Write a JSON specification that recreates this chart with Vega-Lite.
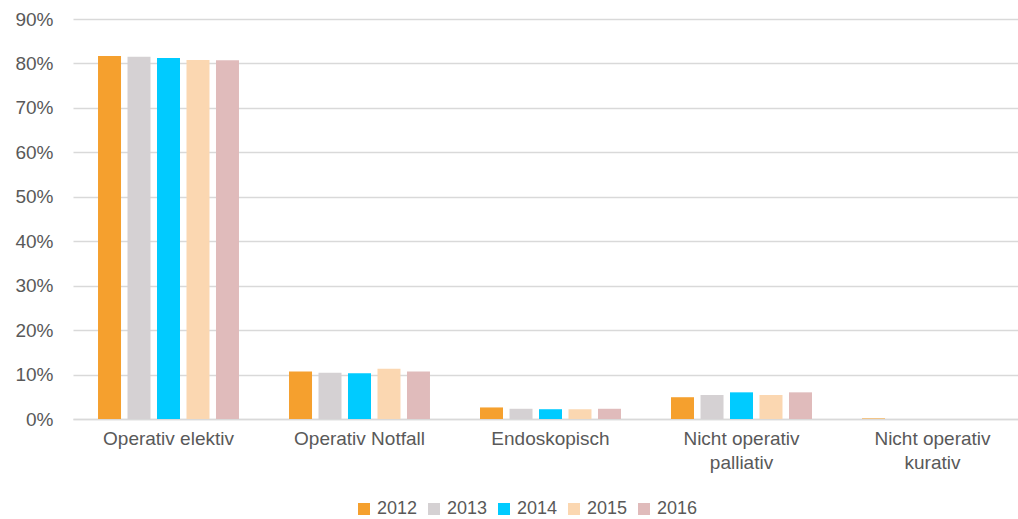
{
  "$schema": "https://vega.github.io/schema/vega-lite/v6.json",
  "width": 945,
  "height": 400,
  "autosize": {"type": "none"},
  "padding": {"left": 73, "top": 19, "right": 0, "bottom": 100},
  "background": "white",
  "config": {
    "view": {"stroke": null},
    "font": "Liberation Sans",
    "axis": {"labelFont": "Liberation Sans", "labelColor": "#595959", "labelFontSize": 19},
    "legend": {"labelFont": "Liberation Sans", "labelColor": "#595959", "labelFontSize": 18}
  },
  "data": {
    "values": [
      {"category": "Operativ elektiv", "year": "2012", "share": 0.817},
      {"category": "Operativ elektiv", "year": "2013", "share": 0.815},
      {"category": "Operativ elektiv", "year": "2014", "share": 0.812},
      {"category": "Operativ elektiv", "year": "2015", "share": 0.808},
      {"category": "Operativ elektiv", "year": "2016", "share": 0.807},
      {"category": "Operativ Notfall", "year": "2012", "share": 0.107},
      {"category": "Operativ Notfall", "year": "2013", "share": 0.104},
      {"category": "Operativ Notfall", "year": "2014", "share": 0.103},
      {"category": "Operativ Notfall", "year": "2015", "share": 0.113},
      {"category": "Operativ Notfall", "year": "2016", "share": 0.107},
      {"category": "Endoskopisch", "year": "2012", "share": 0.026},
      {"category": "Endoskopisch", "year": "2013", "share": 0.023},
      {"category": "Endoskopisch", "year": "2014", "share": 0.022},
      {"category": "Endoskopisch", "year": "2015", "share": 0.022},
      {"category": "Endoskopisch", "year": "2016", "share": 0.023},
      {"category": "Nicht operativ palliativ", "year": "2012", "share": 0.049},
      {"category": "Nicht operativ palliativ", "year": "2013", "share": 0.054},
      {"category": "Nicht operativ palliativ", "year": "2014", "share": 0.060},
      {"category": "Nicht operativ palliativ", "year": "2015", "share": 0.054},
      {"category": "Nicht operativ palliativ", "year": "2016", "share": 0.060},
      {"category": "Nicht operativ kurativ", "year": "2012", "share": 0.0012},
      {"category": "Nicht operativ kurativ", "year": "2013", "share": 0},
      {"category": "Nicht operativ kurativ", "year": "2014", "share": 0},
      {"category": "Nicht operativ kurativ", "year": "2015", "share": 0},
      {"category": "Nicht operativ kurativ", "year": "2016", "share": 0}
    ]
  },
  "mark": {"type": "bar"},
  "encoding": {
    "x": {
      "field": "category",
      "type": "nominal",
      "sort": ["Operativ elektiv", "Operativ Notfall", "Endoskopisch", "Nicht operativ palliativ", "Nicht operativ kurativ"],
      "scale": {"range": [0, 955], "paddingInner": 0.262, "paddingOuter": 0.131},
      "axis": {
        "title": null,
        "labelAngle": 0,
        "ticks": false,
        "domain": true,
        "domainColor": "#D9D9D9",
        "domainWidth": 1.5,
        "labelPadding": 10,
        "labelLineHeight": 24,
        "labelExpr": "datum.label == 'Nicht operativ palliativ' ? ['Nicht operativ', 'palliativ'] : datum.label == 'Nicht operativ kurativ' ? ['Nicht operativ', 'kurativ'] : datum.label"
      }
    },
    "xOffset": {
      "field": "year",
      "type": "nominal",
      "scale": {"paddingInner": 0.22, "paddingOuter": 0}
    },
    "y": {
      "field": "share",
      "type": "quantitative",
      "scale": {"domain": [0, 0.9], "nice": false},
      "axis": {
        "title": null,
        "format": ".0%",
        "values": [0, 0.1, 0.2, 0.3, 0.4, 0.5, 0.6, 0.7, 0.8, 0.9],
        "domain": false,
        "ticks": false,
        "labelPadding": 20,
        "gridColor": "#D9D9D9",
        "gridWidth": 1.5
      }
    },
    "color": {
      "field": "year",
      "type": "nominal",
      "scale": {
        "domain": ["2012", "2013", "2014", "2015", "2016"],
        "range": ["#F5A02E", "#D5D1D3", "#00CBFF", "#FBD7B1", "#E0BBBB"]
      },
      "legend": {
        "title": null,
        "orient": "none",
        "legendX": 282,
        "legendY": 481,
        "direction": "horizontal",
        "symbolType": "square",
        "symbolSize": 144,
        "symbolStrokeWidth": 0,
        "labelOffset": 4,
        "columnPadding": 7
      }
    }
  }
}
